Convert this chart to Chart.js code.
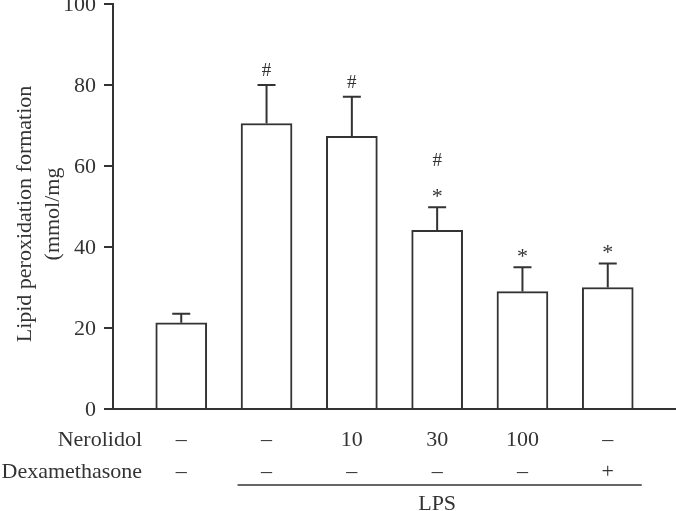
<!DOCTYPE html>
<html>
<head>
<meta charset="utf-8">
<script src="https://cdn.jsdelivr.net/npm/chart.js@4.4.1/dist/chart.umd.min.js"></script>
<style>
  body { margin: 0; background: #fff; }
  #wrap { width: 676px; height: 511px; }
</style>
</head>
<body>
<div id="wrap"><canvas id="mainChart" width="676" height="511"></canvas></div>
<script>
// --- DATA ---
const groups = [0, 1, 2, 3, 4, 5];
const nerolidol = ['–', '–', '10', '30', '100', '–'];
const dexamethasone = ['–', '–', '–', '–', '–', '+'];
const meanValues = [21.3, 70.5, 67.3, 44.1, 29.0, 30.0];
const sdValues = [2.2, 9.5, 9.8, 5.7, 6.0, 5.9];
const hashMarks = ['', '#', '#', '#', '', ''];
const starMarks = ['', '', '', '*', '*', '*'];
const yTicks = [0, 20, 40, 60, 80, 100];
const yTitle = ['Lipid peroxidation formation', '(mmol/mg'];

const INK = '#333';
const SERIF = '"Liberation Serif", "DejaVu Serif", serif';

// error bars + significance marks
const errorBarPlugin = {
    id: 'errorBars',
    afterDatasetsDraw(chart) {
        const { ctx, scales: { x, y } } = chart;
        ctx.save();
        ctx.strokeStyle = INK;
        ctx.lineWidth = 2;
        ctx.fillStyle = INK;
        ctx.textAlign = 'center';
        ctx.textBaseline = 'middle';
        groups.forEach(i => {
            const cx = x.getPixelForValue(i);
            const top = y.getPixelForValue(meanValues[i] + sdValues[i]);
            const base = y.getPixelForValue(meanValues[i]);
            ctx.beginPath();
            ctx.moveTo(cx, base);
            ctx.lineTo(cx, top);
            ctx.moveTo(cx - 9, top);
            ctx.lineTo(cx + 9, top);
            ctx.stroke();

            let off = top - 14;
            if (starMarks[i]) {
                ctx.font = '22px ' + SERIF;
                ctx.fillText(starMarks[i], cx, off + 4);
                off -= 32;
            }
            if (hashMarks[i]) {
                ctx.font = '19px ' + SERIF;
                ctx.fillText(hashMarks[i], cx, off);
            }
        });
        ctx.restore();
    }
};

// y title + treatment rows under the x axis
const labelsPlugin = {
    id: 'treatments',
    afterDraw(chart) {
        const { ctx, scales: { x } } = chart;
        ctx.save();
        ctx.fillStyle = INK;
        ctx.font = '22px ' + SERIF;
        ctx.textBaseline = 'middle';

        ctx.save();
        ctx.translate(0, 214);
        ctx.rotate(-Math.PI / 2);
        ctx.textAlign = 'center';
        ctx.fillText(yTitle[0], 0, 25);
        ctx.fillText(yTitle[1], 0, 53);
        ctx.restore();

        ctx.textAlign = 'right';
        ctx.fillText('Nerolidol', 142, 440);
        ctx.fillText('Dexamethasone', 142, 472);
        ctx.textAlign = 'center';
        groups.forEach(i => {
            const cx = x.getPixelForValue(i);
            ctx.fillText(nerolidol[i], cx, 440);
            ctx.fillText(dexamethasone[i], cx, 472);
        });
        // LPS bracket
        ctx.strokeStyle = INK;
        ctx.lineWidth = 1.5;
        ctx.beginPath();
        ctx.moveTo(x.getPixelForValue(1) - 29, 485);
        ctx.lineTo(x.getPixelForValue(5) + 34, 485);
        ctx.stroke();
        ctx.fillText('LPS', x.getPixelForValue(3), 504);
        ctx.restore();
    }
};

const ctx = document.getElementById('mainChart').getContext('2d');
new Chart(ctx, {
    type: 'bar',
    data: {
        datasets: [{
            data: groups.map(i => ({ x: i, y: meanValues[i] })),
            backgroundColor: '#fff',
            borderColor: INK,
            borderWidth: 2,
            borderSkipped: 'bottom',
            barThickness: 51
        }]
    },
    options: {
        responsive: false,
        animation: false,
        layout: { padding: { top: 4, right: 0, left: 0, bottom: 0 } },
        plugins: { legend: { display: false }, tooltip: { enabled: false } },
        scales: {
            x: {
                type: 'linear',
                offset: false,
                min: -0.8,
                max: 5.8,
                grid: { display: false },
                ticks: { display: false },
                border: { color: INK, width: 2 },
                afterFit: s => { s.height = 102; s.paddingLeft = 0; s.paddingRight = 0; }
            },
            y: {
                min: 0,
                max: 100,
                afterBuildTicks: s => { s.ticks = yTicks.map(v => ({ value: v })); },
                grid: { drawOnChartArea: false, drawTicks: true, tickLength: 9, color: INK, lineWidth: 2 },
                border: { color: INK, width: 2 },
                ticks: { color: INK, padding: 8, labelOffset: 1, font: { family: SERIF, size: 22 } },
                afterFit: s => { s.width = 113; s.paddingTop = 0; s.paddingBottom = 0; }
            }
        }
    },
    plugins: [errorBarPlugin, labelsPlugin]
});
</script>
</body>
</html>
